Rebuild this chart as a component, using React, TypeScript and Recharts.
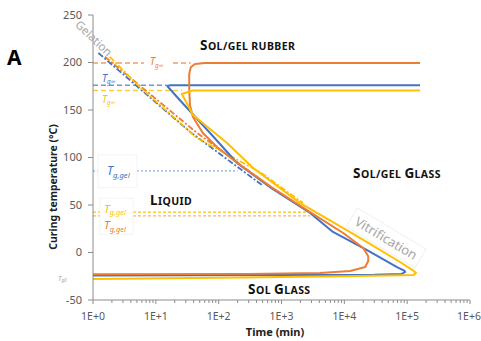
import React from "react";
import { LineChart, Line, XAxis, YAxis, ReferenceDot } from "recharts";

const FONT = "'Noto Sans', 'Open Sans', sans-serif";
const ORANGE = "#ED7D31";
const BLUE = "#4472C4";
const YELLOW = "#FFC000";
const GREY_TEXT = "#A6A6A6";
const AXIS = "#8C8C8C";
const TICK_TEXT = "#595959";

// axis ticks
const decadeTicks = [1, 10, 100, 1000, 10000, 100000, 1000000];
const minorSteps = [2, 3, 4, 5, 6, 7, 8, 9];
const xTicks = [
  ...decadeTicks,
  ...decadeTicks.slice(0, -1).flatMap((d) => minorSteps.map((m) => m * d)),
].sort((a, b) => a - b);
const yTicks = [-50, 0, 50, 100, 150, 200, 250];

// vitrification curves (t in min, T in °C)
const orangeVit = [
  { t: 160000, T: 199.5 }, { t: 60, T: 199.5 }, { t: 42, T: 198.5 }, { t: 36, T: 195 },
  { t: 34, T: 188 }, { t: 34, T: 170 }, { t: 35, T: 155 }, { t: 39, T: 142.6 },
  { t: 56, T: 125.8 }, { t: 94, T: 111 }, { t: 196, T: 94.5 }, { t: 700, T: 68.5 },
  { t: 2850, T: 42.5 }, { t: 9600, T: 20.5 }, { t: 20000, T: 4.7 }, { t: 24000, T: -4 },
  { t: 24000, T: -9 }, { t: 21500, T: -15.3 }, { t: 12400, T: -19.5 }, { t: 4100, T: -21.6 },
  { t: 300, T: -22.5 }, { t: 1, T: -23 },
];
const blueVit = [
  { t: 160000, T: 176 }, { t: 16.5, T: 176 }, { t: 15.3, T: 175 }, { t: 24, T: 160.5 },
  { t: 73, T: 125.8 }, { t: 196, T: 94.2 }, { t: 700, T: 67.5 }, { t: 2850, T: 41.6 },
  { t: 6600, T: 21.6 }, { t: 23000, T: 2.6 }, { t: 69000, T: -15.3 }, { t: 90000, T: -19 },
  { t: 93000, T: -20.5 }, { t: 82000, T: -22.6 }, { t: 30000, T: -23.5 }, { t: 1, T: -24.3 },
];
const yellowVit = [
  { t: 160000, T: 170.5 }, { t: 39, T: 170.5 }, { t: 26, T: 166.8 }, { t: 39, T: 144.7 },
  { t: 136, T: 115.3 }, { t: 353, T: 89 }, { t: 1980, T: 52 }, { t: 6600, T: 32 },
  { t: 23000, T: 11 }, { t: 77000, T: -10 }, { t: 125000, T: -19 }, { t: 138000, T: -21.5 },
  { t: 125000, T: -23.8 }, { t: 10000, T: -25 }, { t: 100, T: -26.5 }, { t: 1, T: -28 },
];

// gelation lines
const orangeGel = [{ t: 1.55, T: 206 }, { t: 45, T: 126 }, { t: 560, T: 73 }];
const blueGel = [{ t: 1.22, T: 210 }, { t: 35, T: 127 }, { t: 490, T: 71 }];
const yellowGel = [
  { t: 1.85, T: 206 }, { t: 5.6, T: 174 }, { t: 45, T: 120.5 }, { t: 455, T: 84.7 }, { t: 2200, T: 52 },
];

// Tg∞ and Tg,gel levels
const orangeTgInf = [{ t: 1, T: 199.5 }, { t: 36, T: 199.5 }];
const blueTgInf = [{ t: 1, T: 176 }, { t: 15.3, T: 176 }];
const yellowTgInf = [{ t: 1, T: 170.5 }, { t: 26, T: 170.5 }];
const blueTgGel = [{ t: 1, T: 86 }, { t: 200, T: 86 }];
const yellowTgGel = [{ t: 1, T: 42.5 }, { t: 2850, T: 42.5 }];
const orangeTgGel = [{ t: 1, T: 38.5 }, { t: 2850, T: 38.5 }];

const fmtDecade = (v: number) => `1E+${Math.round(Math.log10(v))}`;

const XTick = (props: any) => {
  const { x, y, payload } = props;
  const major = decadeTicks.includes(payload.value);
  const last = payload.value === 1000000;
  return (
    <g>
      <line x1={x} x2={x} y1={y} y2={y + (major ? 4 : 3)} stroke={AXIS} strokeWidth={1} />
      {major && (
        <text x={last ? x - 1 : x} y={y + 20} textAnchor="middle" fill={TICK_TEXT} fontSize={10.5} fontFamily={FONT}>
          {fmtDecade(payload.value)}
        </text>
      )}
    </g>
  );
};

// Uppercase letters big, lowercase letters as small capitals
function smallCaps(text: string, big: number, small: number) {
  const parts: { s: string; big: boolean }[] = [];
  for (const ch of text) {
    const isBig = ch !== ch.toLowerCase();
    const last = parts[parts.length - 1];
    if (last && last.big === isBig) last.s += ch;
    else parts.push({ s: ch, big: isBig });
  }
  return parts.map((p, i) => (
    <tspan key={i} fontSize={p.big ? big : small}>
      {p.s.toUpperCase()}
    </tspan>
  ));
}

const symbol = (color: string, size: number, sub: string, x: number, y: number) => (
  <text x={x} y={y} fill={color} fontFamily={FONT} fontStyle="italic">
    <tspan fontSize={size}>T</tspan>
    <tspan fontSize={size * 0.64} dy={size * 0.22}>{sub}</tspan>
  </text>
);

function note(key: string, t: number, T: number, draw: (x: number, y: number) => React.ReactNode) {
  return (
    <ReferenceDot
      key={key}
      x={t}
      y={T}
      r={0}
      fill="none"
      stroke="none"
      ifOverflow="visible"
      label={{
        content: (p: any) => {
          const vb = p.viewBox || {};
          return <g>{draw(vb.x ?? 0, vb.y ?? 0)}</g>;
        },
      }}
    />
  );
}

const curve = (key: string, data: any[], color: string, width: number, dash?: string, opacity = 1) => (
  <Line
    key={key}
    data={data}
    dataKey="T"
    stroke={color}
    strokeWidth={width}
    strokeDasharray={dash}
    strokeOpacity={opacity}
    strokeLinejoin="round"
    type="linear"
    dot={false}
    activeDot={false}
    isAnimationActive={false}
  />
);

const region = (text: string) => (x: number, y: number) => (
  <text x={x} y={y} fontFamily={FONT} fontWeight="bold" fill="#111" letterSpacing={0.4}>
    {smallCaps(text, 13.5, 10.5)}
  </text>
);

export default function App() {
  return (
    <div style={{ position: "absolute", left: 0, top: 0, width: 481, height: 341, background: "#fff" }}>
      <LineChart width={481} height={341} margin={{ top: 15, right: 11, bottom: 0, left: 0 }}>
        <XAxis
          dataKey="t"
          type="number"
          scale="log"
          domain={[1, 1000000]}
          allowDataOverflow
          ticks={xTicks}
          interval={0}
          height={41}
          stroke={AXIS}
          tickLine={false}
          tickSize={0}
          tickMargin={0}
          tick={<XTick />}
        />
        <YAxis
          type="number"
          domain={[-50, 250]}
          ticks={yTicks}
          interval={0}
          width={93}
          stroke={AXIS}
          tickSize={5}
          tickMargin={6}
          tick={{ fill: TICK_TEXT, fontSize: 11, fontFamily: FONT }}
        />

        {curve("oTi", orangeTgInf, ORANGE, 1.5, "5 3", 0.75)}
        {curve("bTi", blueTgInf, BLUE, 1.5, "5 3", 0.75)}
        {curve("yTi", yellowTgInf, YELLOW, 1.5, "5 3", 0.8)}
        {curve("bTg", blueTgGel, "#8FAADC", 1.3, "2 2")}
        {curve("yTg", yellowTgGel, YELLOW, 1.2, "3 2")}
        {curve("oTg", orangeTgGel, "#F4B183", 1.2, "3 2")}

        {curve("bG", blueGel, BLUE, 1.8, "6 2 2 2")}
        {curve("oG", orangeGel, ORANGE, 1.8, "6 2 2 2")}
        {curve("yG", yellowGel, YELLOW, 1.8, "6 2 2 2")}

        {curve("bV", blueVit, BLUE, 2)}
        {curve("oV", orangeVit, ORANGE, 2)}
        {curve("yV", yellowVit, YELLOW, 2)}

        {note("oTiL", 8.07, 199.5, (x, y) => (
          <>
            <rect x={x - 6} y={y - 7} width={28} height={13} fill="#fff" />
            {symbol(ORANGE, 10, "g∞", x, y + 2.5)}
          </>
        ))}
        {note("bTiL", 1.39, 176, (x, y) => symbol(BLUE, 10, "g∞", x, y - 3.5))}
        {note("yTiL", 1.39, 170.5, (x, y) => symbol(YELLOW, 10, "g∞", x, y + 12.5))}
        {note("bTgL", 1.67, 86, (x, y) => (
          <>
            <rect x={x - 9} y={y - 16} width={39} height={33} fill="#fff" stroke="#f3f3f3" />
            {symbol(BLUE, 12, "g,gel", x, y + 4.2)}
          </>
        ))}
        {note("yTgL", 1.5, 42.5, (x, y) => (
          <>
            <rect x={x - 4} y={y - 14} width={33} height={36} fill="#fff" stroke="#f3f3f3" />
            {symbol(YELLOW, 11.5, "g,gel", x, y + 0.5)}
            {symbol(ORANGE, 11.5, "g,gel", x, y + 17)}
          </>
        ))}
        {note("tg0", 1, -24, (x, y) => symbol(GREY_TEXT, 7, "g0", x - 35, y + 5.5))}

        {note("rubber", 50.6, 213.2, region("Sol/gel rubber"))}
        {note("glassTop", 13800, 78.4, region("Sol/gel Glass"))}
        {note("liquid", 8.1, 50, region("Liquid"))}
        {note("solGlass", 294, -43.7, region("Sol Glass"))}

        {note("gelation", 1.04, 225.8, (x, y) => (
          <text
            x={x}
            y={y}
            transform={`rotate(44 ${x} ${y})`}
            textAnchor="middle"
            dominantBaseline="central"
            fontFamily={FONT}
            fontSize={11.5}
            fill={GREY_TEXT}
          >
            Gelation
          </text>
        ))}
        {note("vitrification", 46300, 15.3, (x, y) => (
          <g transform={`rotate(31 ${x} ${y})`}>
            <rect x={x - 40} y={y - 11} width={80} height={22} fill="none" stroke="#f0f0f0" />
            <text x={x} y={y} textAnchor="middle" dominantBaseline="central" fontFamily={FONT} fontSize={13} fill={GREY_TEXT}>
              Vitrification
            </text>
          </g>
        ))}

        {note("panel", 1, 197.4, (x, y) => (
          <text x={x - 86} y={y} fontFamily={FONT} fontWeight="bold" fontSize={21} fill="#000">
            A
          </text>
        ))}
        {note("ytitle", 1, 69, (x, y) => (
          <text
            x={x - 40}
            y={y}
            transform={`rotate(-90 ${x - 40} ${y})`}
            textAnchor="middle"
            dominantBaseline="central"
            fontFamily={FONT}
            fontWeight="bold"
            fontSize={10.5}
            fill="#222"
          >
            Curing temperature (°C)
          </text>
        ))}
        {note("xtitle", 790, -50, (x, y) => (
          <text x={x} y={y + 36} textAnchor="middle" fontFamily={FONT} fontWeight="bold" fontSize={11} fill="#222">
            Time (min)
          </text>
        ))}
      </LineChart>
    </div>
  );
}
